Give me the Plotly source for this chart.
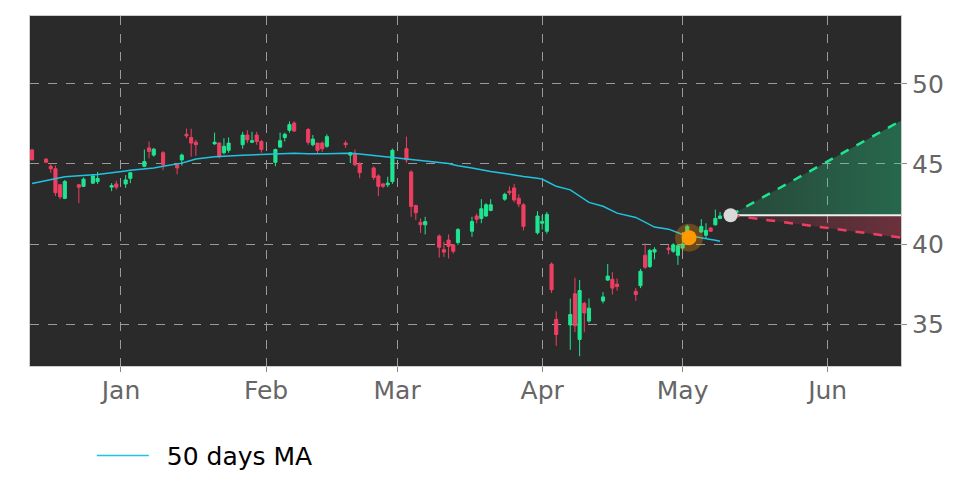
import plotly.graph_objects as go

dates = ["2024-12-13","2024-12-16","2024-12-17","2024-12-18","2024-12-19","2024-12-20",
         "2024-12-23","2024-12-24","2024-12-26","2024-12-27","2024-12-30","2024-12-31",
         "2025-01-02","2025-01-03","2025-01-06","2025-01-07","2025-01-08","2025-01-10",
         "2025-01-13","2025-01-14","2025-01-15","2025-01-16","2025-01-17",
         "2025-01-21","2025-01-22","2025-01-23","2025-01-24",
         "2025-01-27","2025-01-28","2025-01-29","2025-01-30","2025-01-31",
         "2025-02-03","2025-02-04","2025-02-05","2025-02-06","2025-02-07",
         "2025-02-10","2025-02-11","2025-02-12","2025-02-13","2025-02-14",
         "2025-02-18","2025-02-19","2025-02-20","2025-02-21",
         "2025-02-24","2025-02-25","2025-02-26","2025-02-27","2025-02-28",
         "2025-03-03","2025-03-04","2025-03-05","2025-03-06","2025-03-07",
         "2025-03-10","2025-03-11","2025-03-12","2025-03-13","2025-03-14",
         "2025-03-17","2025-03-18","2025-03-19","2025-03-20","2025-03-21",
         "2025-03-24","2025-03-25","2025-03-26","2025-03-27","2025-03-28",
         "2025-03-31","2025-04-01","2025-04-02","2025-04-03","2025-04-04",
         "2025-04-07","2025-04-08","2025-04-09","2025-04-10","2025-04-11",
         "2025-04-14","2025-04-15","2025-04-16","2025-04-17",
         "2025-04-21","2025-04-22","2025-04-23","2025-04-24","2025-04-25",
         "2025-04-28","2025-04-29","2025-04-30","2025-05-01","2025-05-02",
         "2025-05-05","2025-05-06","2025-05-07","2025-05-08","2025-05-09"]

opens = [45.87,45.30,44.85,44.70,43.70,42.85,
         43.70,43.60,43.80,43.90,43.55,43.75,
         43.75,44.10,44.85,46.00,45.55,45.70,
         44.95,45.25,46.85,46.65,46.35,
         46.25,46.30,45.70,45.85,
         46.20,46.80,46.35,46.80,46.40,
         45.10,46.05,46.65,47.10,47.55,
         47.15,46.20,46.30,46.30,46.10,
         46.30,45.55,45.60,45.00,
         44.75,44.25,43.75,43.70,43.90,
         45.95,44.50,42.40,41.35,41.20,
         40.50,39.65,40.25,39.95,40.10,
         40.80,41.75,41.60,41.75,42.10,
         42.80,43.30,43.50,42.85,42.45,
         40.70,41.30,40.80,38.75,35.30,
         34.95,36.90,34.05,36.30,35.20,
         36.45,37.75,37.80,37.50,
         37.05,37.40,39.30,38.60,39.50,
         39.75,39.55,39.30,39.75,40.80,
         40.75,40.55,41.00,41.20,41.60]

highs = [45.95,45.35,45.05,44.90,43.75,44.00,
         43.75,44.15,44.30,44.50,43.80,43.95,
         44.30,44.50,45.90,46.40,46.00,45.80,
         45.00,45.65,47.20,47.20,46.50,
         46.95,46.35,46.60,46.65,
         47.00,47.10,47.00,47.00,46.50,
         45.95,46.95,46.95,47.65,47.65,
         47.25,46.80,46.30,46.40,46.85,
         46.45,45.75,45.90,45.10,
         44.85,44.35,43.80,44.20,45.95,
         46.70,44.60,42.45,41.60,41.70,
         40.60,40.15,40.60,40.00,41.00,
         41.70,41.90,42.80,42.55,42.80,
         43.20,43.60,43.75,43.10,42.55,
         42.05,41.80,42.00,38.85,35.80,
         36.60,37.90,37.75,36.40,36.60,
         37.00,38.75,38.25,37.85,
         37.25,38.45,40.05,39.70,39.80,
         39.95,40.05,40.00,40.30,41.20,
         41.55,41.30,41.05,42.15,42.00]

lows = [45.25,45.05,44.45,43.00,42.80,42.80,
        42.55,43.55,43.75,43.75,43.30,43.40,
        43.50,43.80,44.80,45.35,45.45,44.60,
        44.35,44.90,46.60,45.45,45.50,
        46.20,45.35,45.60,45.70,
        45.95,46.30,46.30,46.20,45.70,
        44.85,46.00,46.40,46.95,47.00,
        46.20,46.10,45.65,45.75,46.00,
        46.00,45.05,44.85,44.10,
        44.00,43.00,43.50,43.55,43.75,
        45.05,41.70,41.50,40.70,40.60,
        39.15,39.20,39.10,39.40,39.95,
        40.45,41.30,41.30,41.70,42.05,
        42.70,43.05,42.60,42.30,40.85,
        40.60,40.90,40.65,36.95,33.65,
        33.40,34.50,33.00,34.50,35.10,
        36.30,37.70,36.85,37.10,
        36.45,37.25,38.45,38.50,39.05,
        39.35,39.45,38.70,39.60,40.60,
        40.70,40.35,40.75,41.15,41.55]

closes = [45.25,45.10,44.70,43.20,42.95,43.90,
          43.55,44.05,44.25,44.10,43.65,43.55,
          44.00,44.45,45.15,45.78,45.92,44.95,
          44.75,45.55,46.75,46.30,46.20,
          46.35,45.45,46.10,46.30,
          46.80,46.50,46.45,46.40,45.90,
          45.90,46.45,46.85,47.45,47.05,
          46.35,46.55,45.85,45.95,46.70,
          46.20,45.70,44.95,44.45,
          44.15,43.60,43.60,43.80,45.85,
          45.25,42.35,41.95,41.20,41.40,
          39.80,39.50,39.85,39.55,40.90,
          41.40,41.55,42.20,42.45,42.45,
          43.10,43.20,42.75,42.50,41.10,
          41.75,41.40,41.85,37.15,34.35,
          35.60,34.90,37.10,35.70,36.00,
          36.70,38.00,37.25,37.35,
          36.85,38.30,38.55,39.60,39.65,
          39.65,39.95,39.90,40.00,41.10,
          41.10,40.85,40.80,41.60,41.75]

ma50 = [43.78,43.95,44.03,44.09,44.16,44.20,
        44.26,44.28,44.32,44.34,44.45,44.50,
        44.56,44.60,44.67,44.70,44.75,44.85,
        44.97,45.05,45.13,45.23,45.31,
        45.44,45.47,45.49,45.50,
        45.54,45.55,45.56,45.57,45.58,
        45.62,45.64,45.66,45.67,45.66,
        45.64,45.63,45.62,45.62,45.63,
        45.66,45.67,45.65,45.62,
        45.53,45.50,45.46,45.43,45.39,
        45.33,45.30,45.27,45.24,45.21,
        45.12,45.08,45.02,44.95,44.88,
        44.74,44.68,44.63,44.58,44.53,
        44.40,44.35,44.31,44.27,44.22,
        44.11,44.05,43.90,43.75,43.60,
        43.38,43.18,42.98,42.78,42.60,
        42.36,42.22,42.08,41.93,
        41.66,41.52,41.35,41.20,41.06,
        40.93,40.83,40.70,40.60,40.55,
        40.42,40.35,40.29,40.24,40.18]

signal_date = ["2025-05-02 09:00"]
signal_price = [40.4]

last_date = ["2025-05-11 06:00"]
last_price = [41.8]

cone_dates = ["2025-05-11 06:00", "2025-06-16 16:00"]
cone_upper = [41.8, 47.7]
cone_lower = [41.8, 40.4]
cone_mid = [41.8, 41.8]

x_range = ["2024-12-12 13:30", "2025-06-16 16:00"]
y_range = [32.39, 54.23]
y_ticks = [35, 40, 45, 50]

GREEN = "#1fe592"
RED = "#ee3f62"
FONT = "DejaVu Sans"

fig = go.Figure()

# cone fills
fig.add_trace(go.Scatter(
    x=[cone_dates[0], cone_dates[1], cone_dates[1], cone_dates[0]],
    y=[cone_mid[0], cone_upper[1], cone_mid[1], cone_mid[0]],
    fill="toself", mode="lines", line=dict(width=0),
    fillgradient=dict(type="horizontal",
                      colorscale=[[0, "rgba(31,229,146,0.15)"], [1, "rgba(31,229,146,0.33)"]]),
    hoverinfo="skip", showlegend=False))
fig.add_trace(go.Scatter(
    x=[cone_dates[0], cone_dates[1], cone_dates[1], cone_dates[0]],
    y=[cone_mid[0], cone_mid[1], cone_lower[1], cone_mid[0]],
    fill="toself", mode="lines", line=dict(width=0),
    fillgradient=dict(type="horizontal",
                      colorscale=[[0, "rgba(238,63,98,0.08)"], [1, "rgba(238,63,98,0.33)"]]),
    hoverinfo="skip", showlegend=False))

fig.add_trace(go.Candlestick(
    x=dates, open=opens, high=highs, low=lows, close=closes,
    increasing=dict(line=dict(color=GREEN, width=1), fillcolor=GREEN),
    decreasing=dict(line=dict(color=RED, width=1), fillcolor=RED),
    whiskerwidth=0, showlegend=False, name="price"))

fig.add_trace(go.Scatter(
    x=dates, y=ma50, mode="lines", name="\u00a0\u200950 days MA",
    line=dict(color="#1fc4e0", width=1.5)))

# cone lines
fig.add_trace(go.Scatter(x=cone_dates, y=cone_mid, mode="lines",
                         line=dict(color="#eeeeee", width=2), showlegend=False, hoverinfo="skip"))
fig.add_trace(go.Scatter(x=cone_dates, y=cone_upper, mode="lines",
                         line=dict(color=GREEN, width=2.5, dash="dash"), showlegend=False))
fig.add_trace(go.Scatter(x=cone_dates, y=cone_lower, mode="lines",
                         line=dict(color=RED, width=2.5, dash="dash"), showlegend=False))

# signal marker
fig.add_trace(go.Scatter(x=signal_date, y=signal_price, mode="markers",
                         marker=dict(size=28, color="rgba(255,150,0,0.3)"),
                         showlegend=False, hoverinfo="skip"))
fig.add_trace(go.Scatter(x=signal_date, y=signal_price, mode="markers",
                         marker=dict(size=15, color="#ff9900"), showlegend=False))
fig.add_trace(go.Scatter(x=last_date, y=last_price, mode="markers",
                         marker=dict(size=14, color="#d9d9d9"), showlegend=False))

# page body has an 8px margin, so the figure is sized/positioned to compensate
fig.update_layout(
    width=964, height=478,
    margin=dict(l=22, r=71, t=8, b=119),
    paper_bgcolor="white", plot_bgcolor="#2a2a2a",
    font=dict(family=FONT, size=25, color="#666666"),
    showlegend=True, boxgap=0.05,
    legend=dict(orientation="h", x=0.071, y=-0.187, xanchor="left", yanchor="top",
                itemwidth=52,
                font=dict(family=FONT, size=25, color="black"), bgcolor="rgba(0,0,0,0)"),
    hovermode=False,
)
fig.update_xaxes(
    range=x_range, type="date", rangeslider=dict(visible=False),
    tickformat="%b", dtick="M1", tick0="2025-01-01",
    showgrid=True, gridcolor="#9a9a9a", griddash="dash", gridwidth=1,
    ticks="outside", ticklen=5, tickcolor="#888888", ticklabelstandoff=-3,
    showline=True, linecolor="#cccccc", linewidth=1, mirror=True,
    zeroline=False, tickfont=dict(family=FONT, size=25, color="#666666"))
fig.update_yaxes(
    range=y_range, side="right", tickvals=y_ticks,
    showgrid=True, gridcolor="#9a9a9a", griddash="dash", gridwidth=1,
    ticks="outside", ticklen=5, tickcolor="#888888",
    showline=True, linecolor="#cccccc", linewidth=1, mirror=True,
    zeroline=False, tickfont=dict(family=FONT, size=25, color="#666666"))

fig.write_html("out.html")
